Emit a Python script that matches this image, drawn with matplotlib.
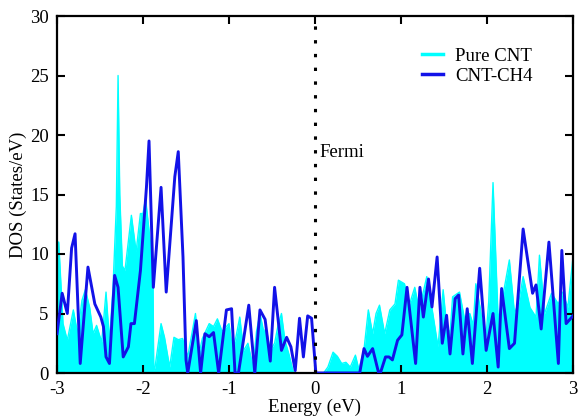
import matplotlib
matplotlib.use("Agg")
import matplotlib.pyplot as plt

# ---- data ----
pure_x = [-3.0, -2.98, -2.93, -2.88, -2.81, -2.76, -2.71, -2.67, -2.62, -2.58, -2.54, -2.48,
          -2.43, -2.39, -2.35, -2.31, -2.29, -2.27, -2.24, -2.21, -2.135, -2.08, -2.03, -2.0,
          -1.97, -1.93, -1.885, -1.875, -1.86, -1.79, -1.75, -1.69, -1.64, -1.59, -1.54, -1.48,
          -1.39, -1.35, -1.31, -1.23, -1.18, -1.135, -1.08, -1.0, -0.96, -0.92, -0.875, -0.83,
          -0.78, -0.72, -0.68, -0.64, -0.60, -0.565, -0.52, -0.47, -0.43, -0.39, -0.35, -0.30,
          -0.25, 0.10, 0.15, 0.21, 0.26, 0.31, 0.36, 0.41, 0.47, 0.51, 0.57, 0.62, 0.67, 0.71,
          0.75, 0.81, 0.87, 0.93, 0.97, 1.04, 1.10, 1.16, 1.21, 1.30, 1.37, 1.43, 1.49, 1.53,
          1.57, 1.60, 1.68, 1.74, 1.80, 1.84, 1.87, 1.92, 1.98, 2.02, 2.07, 2.13, 2.19, 2.26,
          2.32, 2.37, 2.42, 2.50, 2.57, 2.61, 2.67, 2.75, 2.83, 2.88, 2.94, 3.0]
pure_y = [11.0, 11.0, 4.15, 2.75, 5.3, 3.3, 6.1, 7.0, 5.5, 3.3, 4.0, 2.6,
          6.8, 2.7, 7.0, 14.0, 25.0, 15.0, 9.0, 8.6, 13.25, 10.2, 13.4, 13.4,
          14.65, 12.0, 9.0, 0.2, 0.5, 4.15, 3.0, 0.5, 3.0, 2.8, 2.9, 1.35,
          5.0, 1.6, 2.9, 4.15, 3.9, 4.55, 3.5, 4.15, 2.0, 3.0, 4.7, 1.9,
          2.5, 0.5, 3.5, 5.0, 3.6, 3.6, 1.9, 2.5, 4.0, 5.0, 2.75, 1.5,
          0.0, 0.0, 0.5, 1.75, 1.4, 0.8, 0.9, 0.5, 1.5, 0.3, 2.0, 5.3, 3.3, 5.0,
          5.7, 3.3, 5.3, 5.8, 7.8, 7.5, 5.8, 7.2, 5.3, 8.1, 5.0, 2.2, 7.0, 4.0,
          3.3, 6.4, 6.8, 4.5, 5.0, 4.0, 7.5, 5.5, 2.3, 6.0, 16.0, 4.4, 6.7, 9.5,
          5.0, 6.0, 8.1, 5.5, 4.7, 9.9, 5.0, 6.7, 5.8, 6.8, 5.5, 9.75]

ch4_x = [-3.0, -2.94, -2.88, -2.83, -2.79, -2.73, -2.64, -2.56, -2.49, -2.46, -2.43, -2.39,
         -2.33, -2.29, -2.23, -2.17, -2.14, -2.10, -2.03, -1.96, -1.93, -1.88, -1.79, -1.73,
         -1.63, -1.59, -1.535, -1.50, -1.48, -1.38, -1.33, -1.28, -1.23, -1.18, -1.12, -1.03,
         -0.97, -0.93, -0.89, -0.77, -0.70, -0.64, -0.58, -0.52, -0.47, -0.39, -0.33, -0.28,
         -0.23, -0.18, -0.135, -0.085, -0.04, 0.01, 0.52, 0.57, 0.61, 0.67, 0.74, 0.76, 0.82,
         0.86, 0.90, 0.96, 1.01, 1.07, 1.17, 1.22, 1.26, 1.32, 1.36, 1.42, 1.48, 1.53, 1.57,
         1.63, 1.67, 1.72, 1.77, 1.83, 1.915, 1.99, 2.07, 2.13, 2.17, 2.26, 2.32, 2.42, 2.53,
         2.57, 2.63, 2.72, 2.83, 2.87, 2.92, 3.0]
ch4_y = [3.3, 6.7, 5.0, 10.5, 11.7, 0.8, 8.9, 5.8, 4.7, 3.9, 1.35, 0.8,
         8.2, 7.2, 1.35, 2.2, 4.15, 4.15, 8.6, 15.6, 19.5, 7.2, 15.6, 6.8,
         16.5, 18.6, 9.75, 1.1, 0.0, 4.4, 0.0, 3.3, 3.05, 3.4, 0.0, 5.3,
         5.4, 0.0, 0.0, 5.7, 0.0, 5.3, 4.5, 1.0, 7.2, 1.9, 3.0, 2.2,
         0.2, 4.6, 1.35, 4.8, 4.6, 0.0, 0.0, 2.05, 1.4, 2.05, 0.0, 0.0, 1.35,
         1.35, 1.1, 2.75, 3.2, 7.2, 0.8, 7.2, 4.7, 7.9, 5.55, 9.75, 2.5, 4.85, 1.6,
         6.25, 6.55, 1.6, 5.4, 0.8, 8.8, 1.9, 5.0, 0.5, 7.1, 2.05, 2.5, 12.1, 6.7,
         7.4, 3.7, 11.0, 0.8, 10.3, 4.15, 4.8]

x_ticks = [-3, -2, -1, 0, 1, 2, 3]
y_ticks = [0, 5, 10, 15, 20, 25, 30]

CYAN = "#00FFFF"
BLUE = "#1212E8"
plt.rcParams["font.family"] = ["Liberation Serif", "DejaVu Serif"]

fig = plt.figure(figsize=(5.81, 4.16), dpi=100)
ax = fig.add_axes([57 / 581, 43 / 416, 516 / 581, 357 / 416])

ax.fill_between(pure_x, pure_y, 0, color=CYAN, lw=0, zorder=1)
ax.plot(pure_x, pure_y, color=CYAN, lw=1.0, zorder=1, label="Pure CNT")
ax.plot(ch4_x, ch4_y, color=BLUE, lw=2.1, zorder=3, label="CNT-CH4")

ax.plot([0, 0], [0, 30], color="black", lw=2.2, linestyle=(0, (1.1, 3.4)), zorder=4)
ax.text(0.05, 18.5, "Fermi", fontsize=13.5, va="center", ha="left")

ax.set_xlim(-3, 3)
ax.set_ylim(0, 30)
ax.set_xticks(x_ticks)
ax.set_yticks(y_ticks)
ax.set_xticklabels([str(v) for v in x_ticks])
ax.set_yticklabels([str(v) for v in y_ticks])
ax.tick_params(direction="in", length=6, width=1.5, labelsize=13.5,
               top=True, right=True, pad=6)
for s in ax.spines.values():
    s.set_linewidth(1.6)

ax.set_xlabel("Energy (eV)", fontsize=13.5, labelpad=0)
ax.set_ylabel("DOS (States/eV)", fontsize=13.5, labelpad=2)

leg = ax.legend(loc="upper left", bbox_to_anchor=(0.708, 0.912), frameon=False,
                fontsize=13.5, handlelength=1.1, handletextpad=0.65,
                labelspacing=0.17, borderpad=0, borderaxespad=0)
for h in leg.get_lines():
    h.set_linewidth(2.5)

fig.savefig("out.png", dpi=100)
